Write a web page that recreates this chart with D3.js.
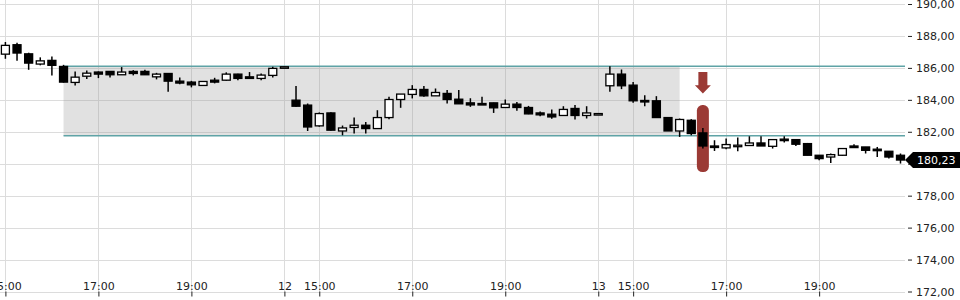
<!DOCTYPE html>
<meta charset="utf-8">
<script src="https://d3js.org/d3.v7.min.js"></script>
<style>
  body { margin: 0; background: #fff; }
  text { font-family: "DejaVu Sans", sans-serif; }
</style>
<svg id="chart" width="960" height="300"></svg>
<script>
// 15 minute candles, one per slot (index 0 = 15:00 on day 11)
const opens  = [186.86,187.45,186.88,186.24,186.47,186.09,185.09,185.48,185.74,185.78,185.57,185.78,185.78,185.44,185.65,185.17,185.11,184.90,185.23,185.23,185.61,185.44,185.34,185.53,186.07,
  183.98,183.67,182.37,183.18,182.05,182.27,182.41,182.20,182.89,184.02,184.34,184.65,184.25,184.40,184.04,183.81,183.77,183.81,183.52,183.73,183.52,183.18,183.10,183.02,183.46,183.02,183.14,
  184.88,185.61,184.92,183.96,183.94,182.89,182.05,182.72,181.93,181.11,180.99,181.15,181.14,181.30,181.09,181.54,181.51,181.26,180.53,180.42,180.53,181.11,181.05,180.91,180.78,180.53];
const highs  = [187.62,187.57,186.95,186.66,186.72,186.19,185.78,185.84,185.78,185.80,186.05,185.86,185.88,185.69,185.65,185.40,185.19,185.17,185.38,185.72,185.64,185.74,185.65,186.07,186.08,
  184.86,183.77,183.21,183.23,182.39,182.89,182.62,183.35,184.19,184.36,184.92,184.86,184.71,184.61,184.61,184.10,184.19,183.82,184.02,183.87,183.62,183.27,183.40,183.60,183.67,183.60,183.15,
  186.11,185.90,185.11,184.29,184.23,182.91,182.83,182.79,182.24,181.47,181.58,181.64,181.72,181.72,181.53,181.72,181.53,181.30,180.53,180.64,180.97,181.22,181.05,181.05,180.80,180.64];
const lows   = [186.57,186.44,185.88,186.16,185.53,185.08,184.90,185.31,185.36,185.40,185.57,185.53,185.55,185.28,184.50,184.98,184.78,184.89,185.03,185.20,185.23,185.31,185.23,185.40,186.06,
  183.57,182.05,182.32,182.07,181.78,181.89,181.89,182.19,182.79,183.50,184.09,184.19,184.25,183.77,183.75,183.56,183.73,183.18,183.51,183.31,183.10,182.98,182.81,183.01,182.77,182.83,183.13,
  184.50,184.67,183.81,183.60,182.88,182.05,181.68,181.78,180.95,180.80,180.91,180.78,181.14,181.11,180.95,181.33,181.11,180.53,180.22,180.05,180.50,181.00,180.64,180.42,180.32,180.01];
const closes = [187.41,186.93,186.30,186.44,186.16,185.11,185.42,185.67,185.61,185.57,185.74,185.65,185.57,185.61,185.17,185.05,184.94,185.15,185.11,185.61,185.34,185.34,185.55,185.97,186.07,
  183.60,182.30,183.14,182.10,182.24,182.41,182.20,182.89,184.02,184.36,184.65,184.25,184.46,184.02,183.75,183.68,183.76,183.50,183.73,183.52,183.12,183.06,182.93,183.40,183.02,183.18,183.14,
  185.61,184.88,183.94,183.93,182.89,182.05,182.77,181.89,181.11,181.10,181.20,181.16,181.30,181.11,181.51,181.53,181.22,180.53,180.32,180.57,180.95,181.01,180.84,180.90,180.42,180.23];

// x axis ticks (slot index) and their labels
const tickSlots  = [0, 8, 16, 24, 27, 35, 43, 51, 54, 62, 70];
const tickLabels = ["15:00", "17:00", "19:00", "12", "15:00", "17:00", "19:00", "13", "15:00", "17:00", "19:00"];

// y axis ticks
const priceTicks = [172, 174, 176, 178, 180, 182, 184, 186, 188, 190];

// range box and the two levels
const boxFrom = 5, boxTo = 58;
const levelTop = 186.1, levelBottom = 181.75;
const signalSlot = 60;
const lastPrice = 180.23;

const svg = d3.select("#chart");
const plotRight = 905;

const x = d3.scaleLinear().domain([0, 77]).range([5.4, 900.5]);
const y = d3.scaleLinear().domain([172, 190]).range([291.5, 4]);

const fmt = d => d3.format(".2f")(d).replace(".", ",");

// grid
svg.append("g")
  .selectAll("line")
  .data(priceTicks)
  .join("line")
    .attr("x1", 0).attr("x2", plotRight)
    .attr("y1", d => Math.round(y(d)) + 0.5).attr("y2", d => Math.round(y(d)) + 0.5)
    .attr("stroke", "#dcdcdc");

svg.append("g")
  .selectAll("line")
  .data(tickSlots)
  .join("line")
    .attr("x1", d => Math.round(x(d)) + 0.5).attr("x2", d => Math.round(x(d)) + 0.5)
    .attr("y1", 0).attr("y2", y(172))
    .attr("stroke", "#dcdcdc");

// range box
svg.append("rect")
  .attr("x", x(boxFrom))
  .attr("y", y(levelTop))
  .attr("width", x(boxTo) - x(boxFrom))
  .attr("height", y(levelBottom) - y(levelTop))
  .attr("fill", "#dedede")
  .attr("fill-opacity", 0.92);

// redraw the grid faintly over the box
svg.append("g")
  .selectAll("line")
  .data(priceTicks.filter(d => d > levelBottom && d < levelTop))
  .join("line")
    .attr("x1", x(boxFrom)).attr("x2", x(boxTo))
    .attr("y1", d => Math.round(y(d)) + 0.5).attr("y2", d => Math.round(y(d)) + 0.5)
    .attr("stroke", "#c8c8c8");
svg.append("g")
  .selectAll("line")
  .data(tickSlots.filter(d => d > boxFrom && d < boxTo))
  .join("line")
    .attr("x1", d => Math.round(x(d)) + 0.5).attr("x2", d => Math.round(x(d)) + 0.5)
    .attr("y1", y(levelTop)).attr("y2", y(levelBottom))
    .attr("stroke", "#c8c8c8");

// levels
[levelTop, levelBottom].forEach(v => {
  svg.append("line")
    .attr("x1", x(boxFrom)).attr("x2", plotRight)
    .attr("y1", y(v)).attr("y2", y(v))
    .attr("stroke", "#5fa3a6")
    .attr("stroke-width", 1.4);
});

// signal marker
const sx = x(signalSlot);
svg.append("rect")
  .attr("x", sx - 6).attr("width", 12)
  .attr("y", y(183.67)).attr("height", y(179.48) - y(183.67))
  .attr("rx", 5.5)
  .attr("fill", "#9b3a35");
const at = y(185.74), ah = y(184.92), ab = y(184.4);
svg.append("path")
  .attr("d", `M${sx - 4.5},${at} L${sx + 4.5},${at} L${sx + 4.5},${ah} L${sx + 8},${ah} L${sx},${ab} L${sx - 8},${ah} L${sx - 4.5},${ah} Z`)
  .attr("fill", "#9b3a35");

// candles
const candles = d3.range(opens.length).map(i => ({
  i: i, o: opens[i], h: highs[i], l: lows[i], c: closes[i]
}));

const cg = svg.append("g").selectAll("g")
  .data(candles)
  .join("g");

cg.append("line")
  .attr("x1", d => x(d.i)).attr("x2", d => x(d.i))
  .attr("y1", d => y(d.h)).attr("y2", d => y(d.l))
  .attr("stroke", "#000")
  .attr("stroke-width", 1.5);

cg.append("rect")
  .attr("x", d => x(d.i) - 4)
  .attr("width", 8)
  .attr("y", d => y(Math.max(d.o, d.c)))
  .attr("height", d => Math.max(1.5, Math.abs(y(d.o) - y(d.c))))
  .attr("fill", d => d.c >= d.o ? "#fff" : "#000")
  .attr("stroke", "#000")
  .attr("stroke-width", 1.3);

// y axis (the 180 label sits under the last price tag)
const yAxis = svg.append("g")
  .attr("transform", `translate(${plotRight + 3},0)`)
  .call(d3.axisRight(y)
    .tickValues(priceTicks)
    .tickSize(4)
    .tickPadding(4)
    .tickFormat(d => d === 180 ? "" : fmt(d)));
yAxis.select(".domain").remove();
yAxis.selectAll("text").attr("font-size", 11).attr("fill", "#222").attr("font-family", "DejaVu Sans");
yAxis.selectAll("line").attr("stroke", "#222");

// x axis
const xAxis = svg.append("g")
  .attr("transform", `translate(0,${y(172)})`)
  .call(d3.axisBottom(x)
    .tickValues(tickSlots)
    .tickSize(5)
    .tickFormat((d, k) => tickLabels[k]));
xAxis.select(".domain").remove();
xAxis.selectAll("line").attr("stroke", "#222");
xAxis.selectAll("text")
  .attr("y", -2)
  .attr("dy", 0)
  .attr("font-size", 11)
  .attr("fill", "#222")
  .attr("font-family", "DejaVu Sans");

// last price tag
const ly = y(lastPrice);
svg.append("path")
  .attr("d", `M${plotRight},${ly} L${plotRight + 8},${ly - 8} L960,${ly - 8} L960,${ly + 8} L${plotRight + 8},${ly + 8} Z`)
  .attr("fill", "#000");
svg.append("text")
  .attr("x", plotRight + 12)
  .attr("y", ly)
  .attr("dy", "0.35em")
  .attr("font-size", 11)
  .attr("fill", "#fff")
  .text(fmt(lastPrice));
</script>
